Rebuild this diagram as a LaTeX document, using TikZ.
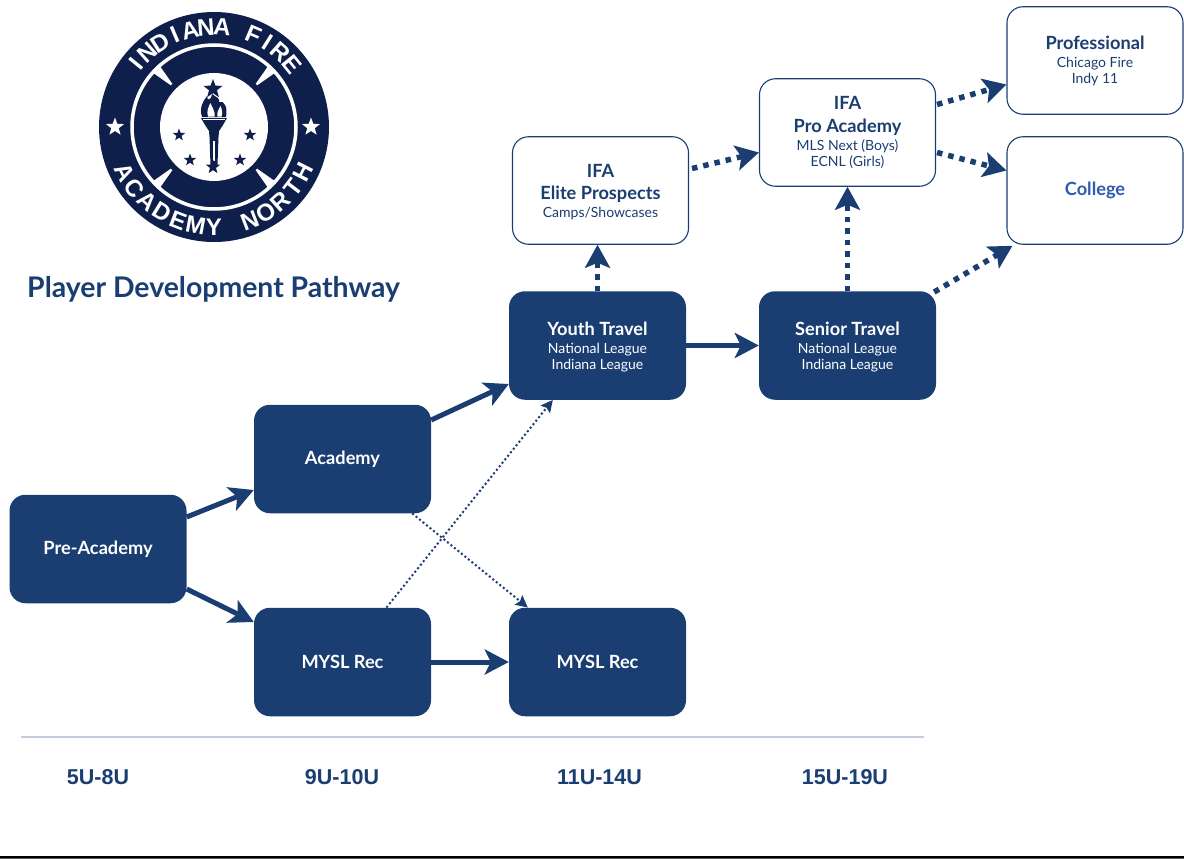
\documentclass[tikz,border=0pt]{standalone}
\usepackage{fontspec}
\setmainfont{Lato}
\newfontfamily\helv{Liberation Sans}
\usetikzlibrary{arrows.meta,shapes.geometric}
\definecolor{navy}{HTML}{1A3E72}
\definecolor{logonavy}{HTML}{0F1F4B}
\definecolor{rulec}{HTML}{C4CDDE}
\definecolor{collegeblue}{HTML}{2F5BB0}
\newcommand{\boxtitle}[1]{{\fontsize{18.2}{16}\selectfont\bfseries #1}}
\newcommand{\boxsub}[1]{{\fontsize{14}{16}\selectfont #1}}
\tikzset{
  x=1pt,y=-1pt,
  darkbox/.style={draw=none,fill=navy,rounded corners=16pt,minimum width=177pt,minimum height=108.5pt,text=white,align=center,inner sep=0pt,anchor=center,font=\fontsize{14}{16}\selectfont},
  lightbox/.style={draw=navy,line width=1.1pt,fill=white,rounded corners=16pt,minimum width=176pt,minimum height=107.5pt,text=navy,align=center,inner sep=0pt,anchor=center,font=\fontsize{14}{16}\selectfont},
  solidarrow/.style={draw=navy,line width=5pt,-{Stealth[length=24pt,width=25pt,inset=6pt]}},
  thindot/.style={draw=navy,line width=2pt,dash pattern=on 2pt off 2.5pt,-{Stealth[length=12pt,width=12pt,inset=2pt]}},
  thickdash/.style={draw=navy,line width=5.5pt,dash pattern=on 5.5pt off 6pt,-{Stealth[length=23pt,width=25pt,inset=5pt]}},
  agelabel/.style={text=navy,font=\helv\bfseries\fontsize{21.5}{23}\selectfont,anchor=center,inner sep=0pt},
  logoletter/.style={text=white,font=\helv\bfseries\fontsize{24}{24}\selectfont,inner sep=0pt,anchor=center},
  logostar/.style={star,star points=5,star point ratio=2.4,fill=#1,draw=none,inner sep=0pt},
}
\begin{document}
\begin{tikzpicture}
\useasboundingbox (0,0) rectangle (1184,859);
\fill[white] (0,0) rectangle (1184,859);
\fill[black] (0,855.5) rectangle (1184,858);
\fill[black!65] (0,858) rectangle (1184,859);

% logo
\begin{scope}[shift={(214,127)},x=1pt,y=1pt]
  \fill[logonavy] (0,0) circle[radius=115];
  \draw[white,line width=3.5pt] (0,0) circle[radius=82];
  \fill[white] (0,0) circle[radius=54];
  \foreach \a in {45,135,225,315}{
    \fill[white] (\a-3.5:83) -- (\a-1:60) -- (\a+1:60) -- (\a+3.5:83) -- cycle;
  }
  \foreach \c [count=\i from 0] in {I,N,D,I,A,N,A,{},F,I,R,E}{
    \pgfmathsetmacro{\ang}{141-\i*9.27}
    \pgfmathsetmacro{\rot}{\ang-90}
    \node[logoletter,rotate=\rot] (lt\i) at (\ang:100) {\c};
  }
  \foreach \c [count=\i from 0] in {A,C,A,D,E,M,Y,{},N,O,R,T,H}{
    \pgfmathsetmacro{\ang}{207+\i*10.5}
    \pgfmathsetmacro{\rot}{\ang-270}
    \node[logoletter,rotate=\rot] (lb\i) at (\ang:100) {\c};
  }
  \node[logostar=white,minimum size=19pt] (sl) at (-99,0) {};
  \node[logostar=white,minimum size=19pt] (sr) at (97,0) {};
  \node[logostar=logonavy,minimum size=20pt] (s0) at (-1,38) {};
  \node[logostar=logonavy,minimum size=13pt] (s1) at (-35,-8) {};
  \node[logostar=logonavy,minimum size=13pt] (s2) at (36,-8) {};
  \node[logostar=logonavy,minimum size=13pt] (s3) at (-24,-33) {};
  \node[logostar=logonavy,minimum size=13pt] (s4) at (26,-33) {};
  % torch
  \fill[logonavy] (-13,9) -- (13,9) -- (9,2) -- (5,-4) -- (4.5,-10) -- (3.5,-38) -- (-3.5,-38) -- (-4.5,-10) -- (-5,-4) -- (-9,2) -- cycle;
  \fill[white] (-0.6,-14) rectangle (0.6,-34);
  \fill[logonavy] (-12,10) .. controls (-15,19) and (-11,26) .. (-7,31) .. controls (-7,26) and (-3,26) .. (-2,33) .. controls (3,29) and (6,29) .. (5,25) .. controls (10,27) and (14,20) .. (12,10) -- cycle;
  \fill[white] (-6,10.5) .. controls (-8,16) and (-5,21) .. (-3.5,24) .. controls (-2,19) and (0.5,18) .. (0.5,14) -- (0.5,10.5) -- cycle;
  \fill[white] (3.5,10.5) .. controls (2.5,15) and (5,18) .. (6.5,21) .. controls (8.5,17) and (8.5,13) .. (7.5,10.5) -- cycle;
  \fill[white] (-11,6.8) rectangle (11,8);
  \node[logostar=logonavy,minimum size=15pt] (s5) at (-1,-40) {};
\end{scope}

\node[text=navy,font=\bfseries\fontsize{28.4}{30}\selectfont,anchor=west,inner sep=0pt] (title) at (27,289.5) {Player Development Pathway};

% dark boxes
\node[darkbox] (pre) at (98,549) {\boxtitle{Pre-Academy}};
\node[darkbox] (acad) at (342.5,459) {\boxtitle{Academy}};
\node[darkbox] (rec1) at (342.5,662) {\boxtitle{MYSL Rec}};
\node[darkbox] (rec2) at (597.5,662) {\boxtitle{MYSL Rec}};
\node[darkbox] (youth) at (597.5,345.5) {\rule{0pt}{17pt}\boxtitle{Youth Travel}\\[2pt]\boxsub{National League}\\\boxsub{Indiana League}};
\node[darkbox] (senior) at (847.5,345.5) {\rule{0pt}{17pt}\boxtitle{Senior Travel}\\[2pt]\boxsub{National League}\\\boxsub{Indiana League}};

% light boxes
\node[lightbox] (elite) at (600.5,190.5) {\rule{0pt}{16pt}\boxtitle{IFA}\\[6pt]\boxtitle{Elite Prospects}\\[2pt]\boxsub{Camps/Showcases}};
\node[lightbox] (proacad) at (847.5,132.5) {\boxtitle{IFA}\\[7pt]\boxtitle{Pro Academy}\\[2pt]\boxsub{MLS Next (Boys)}\\\boxsub{ECNL (Girls)}};
\node[lightbox] (prof) at (1095,60.5) {\boxtitle{Professional}\\[2pt]\boxsub{Chicago Fire}\\\boxsub{Indy 11}};
\node[lightbox,text=collegeblue] (college) at (1095,190.5) {\boxtitle{College}};

% solid connectors
\draw[solidarrow] ([yshift=32pt]pre.east) -- ([yshift=-31pt]acad.west);
\draw[solidarrow] ([yshift=-40pt]pre.east) -- ([yshift=40pt]rec1.west);
\draw[solidarrow] ([yshift=39pt]acad.east) -- ([yshift=-38.5pt]youth.west);
\draw[solidarrow] (rec1.east) -- (rec2.west);
\draw[solidarrow] (youth.east) -- (senior.west);

% thin dotted connectors
\draw[thindot] ([xshift=44pt]rec1.north) -- ([xshift=44pt]youth.south west);
\draw[thindot] ([xshift=-19pt]acad.south east) -- ([xshift=19pt]rec2.north west);

% thick dashed connectors
\draw[thickdash] (youth.north) -- ([xshift=-3pt]elite.south);
\draw[thickdash] (senior.north) -- (proacad.south);
\draw[thickdash] ([yshift=-1pt,xshift=-2pt]senior.north east) -- ([xshift=6pt,yshift=-1pt]college.south west);
\draw[thickdash] ([xshift=3pt,yshift=22pt]elite.east) -- ([yshift=-20pt]proacad.west);
\draw[thickdash] ([xshift=1pt,yshift=28pt]proacad.east) -- ([yshift=-24pt]prof.west);
\draw[thickdash] ([xshift=1pt,yshift=-20pt]proacad.east) -- ([yshift=20pt]college.west);

% axis
\coordinate (axl) at (21,737);
\coordinate (axr) at (924,737);
\draw[rulec,line width=2pt] (axl) -- (axr);
\node[agelabel] (a1) at (98,777) {5U-8U};
\node[agelabel] (a2) at (342,777) {9U-10U};
\node[agelabel] (a3) at (599.5,777) {11U-14U};
\node[agelabel] (a4) at (845,777) {15U-19U};
\end{tikzpicture}
\end{document}
